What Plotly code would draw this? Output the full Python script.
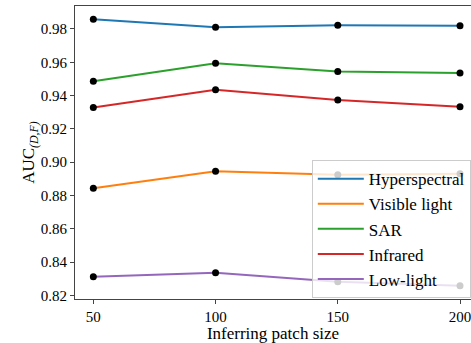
import plotly.graph_objects as go

patch_sizes = [50, 100, 150, 200]
series_names = ["Hyperspectral", "Visible light", "SAR", "Infrared", "Low-light"]
hyperspectral = [0.9858, 0.9811, 0.9822, 0.9820]
visible_light = [0.8843, 0.8945, 0.8925, 0.8930]
sar = [0.9486, 0.9594, 0.9544, 0.9536]
infrared = [0.9328, 0.9435, 0.9374, 0.9333]
low_light = [0.8311, 0.8335, 0.8282, 0.8258]
colors = ["#1f77b4", "#ff7f0e", "#2ca02c", "#d62728", "#9467bd"]

all_series = [hyperspectral, visible_light, sar, infrared, low_light]

fig = go.Figure()
for name, vals, c in zip(series_names, all_series, colors):
    fig.add_trace(go.Scatter(x=patch_sizes, y=vals, mode="lines", name=name,
                             line=dict(color=c, width=2)))
for vals in all_series:
    fig.add_trace(go.Scatter(x=patch_sizes, y=vals, mode="markers", showlegend=False,
                             marker=dict(color="black", size=7), hoverinfo="skip"))

font = "Liberation Serif"
fig.update_layout(
    width=471, height=343,
    margin=dict(l=75, r=0, t=6, b=41),
    plot_bgcolor="white", paper_bgcolor="white",
    font=dict(family=font, size=15, color="black"),
    legend=dict(x=0.598, xanchor="left", y=0.003, yanchor="bottom",
                bgcolor="rgba(255,255,255,0.8)", bordercolor="#cccccc", borderwidth=1,
                font=dict(family=font, size=17, color="black"), itemwidth=46, tracegroupgap=0),
    xaxis=dict(range=[42.5, 204.5], tickvals=[50, 100, 150, 200], showgrid=False,
               zeroline=False, showline=True, linecolor="#444", linewidth=1, mirror=True,
               ticks="outside", ticklen=4, tickcolor="#444", ticklabeloverflow="allow",
               title=dict(text="Inferring patch size", font=dict(family=font, size=17, color="black"), standoff=6),
               tickfont=dict(family=font, size=15, color="black")),
    yaxis=dict(range=[0.8178, 0.9938], tickvals=[0.82, 0.84, 0.86, 0.88, 0.90, 0.92, 0.94, 0.96, 0.98],
               tickformat=".2f", showgrid=False, zeroline=False, showline=True,
               linecolor="#444", linewidth=1, mirror=False,
               ticks="outside", ticklen=4, tickcolor="#444",
               title=dict(text="AUC<sub><i>(D,F)</i></sub>", font=dict(family=font, size=17, color="black"), standoff=1),
               tickfont=dict(family=font, size=15, color="black")),
)
fig.write_html("out.html")
